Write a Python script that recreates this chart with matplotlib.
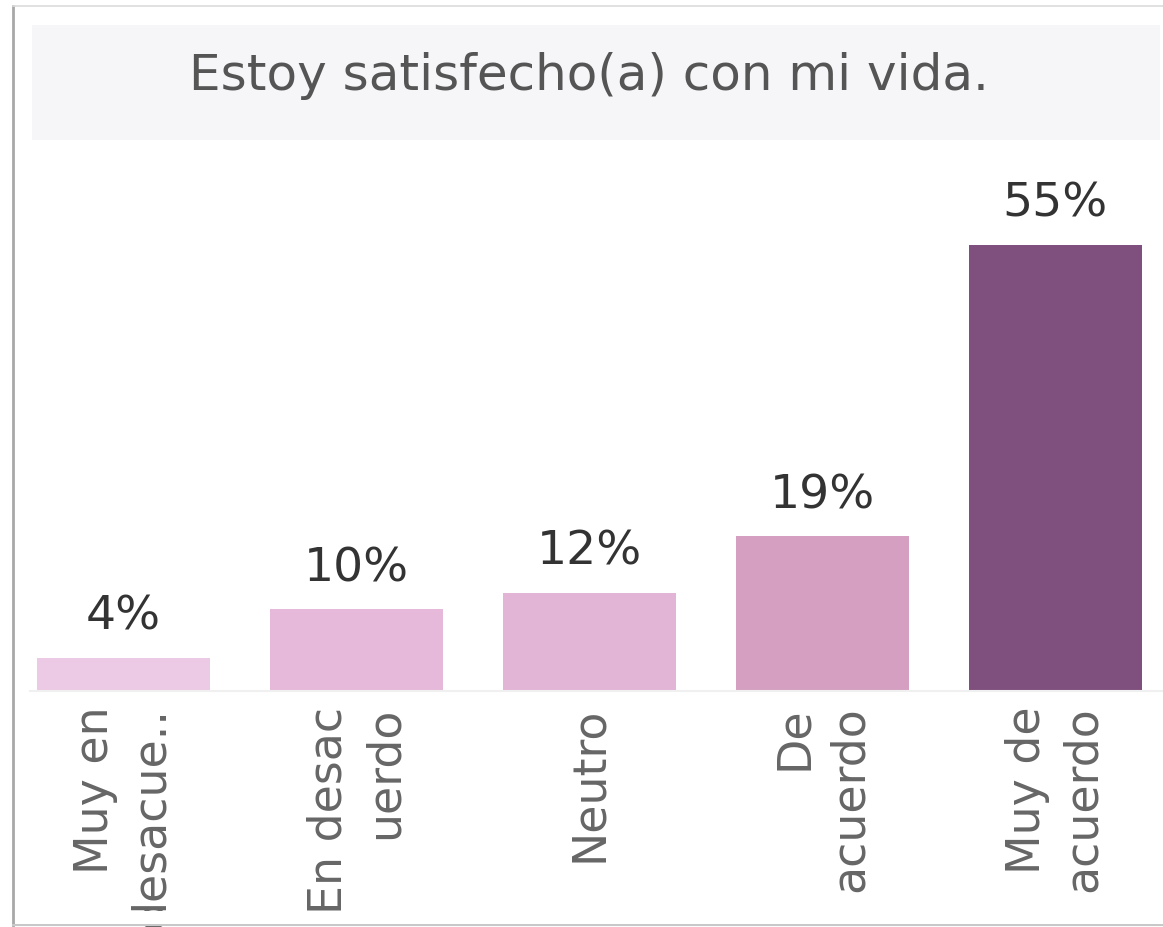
import matplotlib
matplotlib.use("Agg")
import matplotlib.pyplot as plt
from matplotlib.patches import Rectangle
from matplotlib.lines import Line2D

categories = ["Muy en\ndesacue..", "En desac\nuerdo", "Neutro", "De\nacuerdo", "Muy de\nacuerdo"]
values = [4, 10, 12, 19, 55]
value_labels = ["4%", "10%", "12%", "19%", "55%"]
colors = ["#ecc9e4", "#e6b8d9", "#e2b4d5", "#d49fc0", "#7f507d"]
title = "Estoy satisfecho(a) con mi vida."

W, H = 1163, 927
fig = plt.figure(figsize=(W / 100, H / 100), dpi=100)
fig.patch.set_facecolor("white")

def fx(px):
    return px / W

def fy(py):
    return 1 - py / H

# frame lines
fig.add_artist(Line2D([fx(13), fx(13)], [fy(6), fy(925)], color="#a8a8a8", lw=2))
fig.add_artist(Line2D([fx(13), 1], [fy(6), fy(6)], color="#dcdcdc", lw=1.2))
fig.add_artist(Line2D([fx(13), 1], [fy(925), fy(925)], color="#c8c8c8", lw=1.5))

# title band
fig.add_artist(Rectangle((fx(32), fy(140)), fx(1160) - fx(32), fy(25) - fy(140),
                         facecolor="#f6f5f8", edgecolor="none"))
fig.text(fx(589), fy(76), title, ha="center", va="center", fontsize=36,
         color="#555555", family="DejaVu Sans")

# axes
left, right = 37, 1142
base, top = 690, 150
ax = fig.add_axes([fx(left), fy(base), fx(right) - fx(left), fy(top) - fy(base)])
bw = 0.745
n = len(values)
ax.set_xlim(-bw / 2, n - 1 + bw / 2)
ax.set_ylim(0, 55 * (base - top) / (base - 245))
x = list(range(n))
ax.bar(x, values, width=bw, color=colors)
for xi, v, lab in zip(x, values, value_labels):
    ax.annotate(lab, (xi, v), xytext=(0, 13), textcoords="offset points",
                ha="center", va="bottom", fontsize=34, color="#333333")
for s in ax.spines.values():
    s.set_visible(False)
ax.set_yticks([])
ax.set_xticks(x)
ax.set_xticklabels(categories, rotation=90, fontsize=33, color="#666666",
                   ha="center", va="top", multialignment="right", linespacing=1.32)
ax.tick_params(axis="x", length=0, pad=12)
ax.set_facecolor("none")

fig.add_artist(Line2D([fx(30), 1], [fy(691), fy(691)], color="#f0f0f0", lw=1.5))

# clip the overflowing label text at the bottom, as in the original
fig.add_artist(Rectangle((fx(15), fy(924)), 1, fy(911) - fy(924),
                         facecolor="white", edgecolor="none", zorder=10))

fig.savefig("out.png", dpi=100)
